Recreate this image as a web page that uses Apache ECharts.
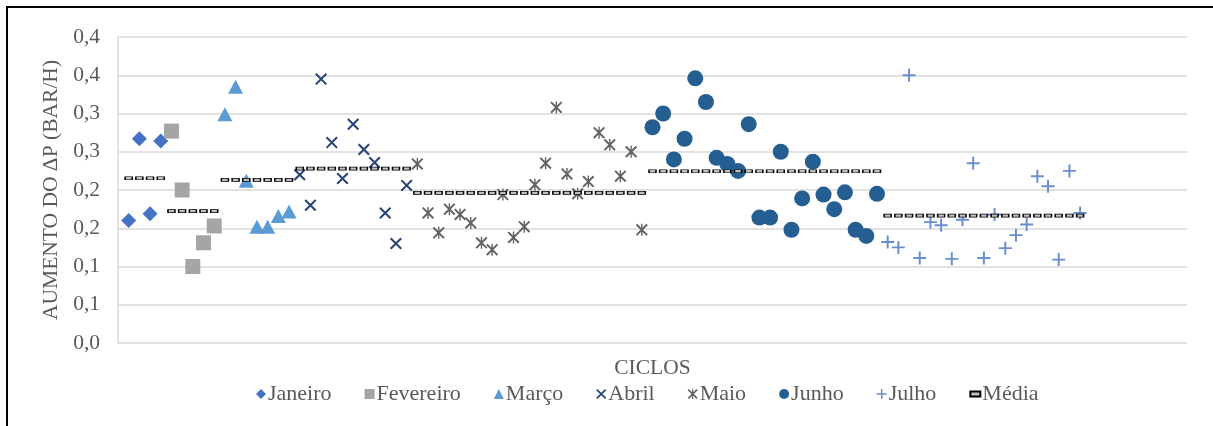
<!DOCTYPE html>
<html>
<head>
<meta charset="utf-8">
<script src="https://cdn.jsdelivr.net/npm/echarts@6/dist/echarts.min.js"></script>
<style>
  html, body { margin: 0; padding: 0; background: #fff; }
  #chart { width: 1213px; height: 426px; }
</style>
</head>
<body>
<div id="chart"></div>
<script>
// Aumento do ΔP (bar/h) por ciclo, agrupado por mês
const months = ['Janeiro', 'Fevereiro', 'Março', 'Abril', 'Maio', 'Junho', 'Julho'];

const janeiro   = [0.160, 0.267, 0.169, 0.264];
const fevereiro = [0.277, 0.200, 0.100, 0.131, 0.153];
const marco     = [0.299, 0.335, 0.212, 0.152, 0.152, 0.166, 0.172];
const abril     = [0.220, 0.180, 0.345, 0.262, 0.215, 0.286, 0.253, 0.236, 0.170, 0.130, 0.206];
const maio      = [0.234, 0.170, 0.144, 0.175, 0.168, 0.157, 0.131, 0.122, 0.194, 0.138, 0.152,
                   0.207, 0.235, 0.308, 0.221, 0.195, 0.211, 0.275, 0.259, 0.218, 0.250, 0.148];
const junho     = [0.282, 0.300, 0.240, 0.267, 0.346, 0.315, 0.242, 0.234, 0.225, 0.286, 0.164,
                   0.164, 0.250, 0.148, 0.189, 0.237, 0.194, 0.175, 0.197, 0.148, 0.140, 0.195];
const julho     = [0.132, 0.125, 0.350, 0.111, 0.158, 0.154, 0.110, 0.161, 0.235, 0.111, 0.168,
                   0.124, 0.141, 0.155, 0.218, 0.205, 0.109, 0.225, 0.170];

// Média mensal
const medias = [0.2154, 0.1723, 0.2132, 0.2280, 0.1962, 0.2245, 0.1666];

const yTicks = { min: 0, max: 0.4, interval: 0.05 };

const monthValues = [janeiro, fevereiro, marco, abril, maio, junho, julho];
const colors = ['#4472C4', '#A5A5A5', '#5B9BD5', '#264478', '#636363', '#255E91', '#698ED0'];

const X_PATH = 'path://M0,2.4 L2.4,0 L20,17.6 L17.6,20 Z M17.6,0 L20,2.4 L2.4,20 L0,17.6 Z';
const STAR_PATH = 'path://M0,2.3 L2.3,0 L20,17.7 L17.7,20 Z M17.7,0 L20,2.3 L2.3,20 L0,17.7 Z M8.85,0 L11.15,0 L11.15,20 L8.85,20 Z';
const PLUS_PATH = 'path://M8.5,0 H11.5 V8.5 H20 V11.5 H11.5 V20 H8.5 V11.5 H0 V8.5 H8.5 Z';
const DASH_PATH = 'path://M0,0 H8 V4 H0 Z';

const symbols = ['diamond', 'rect', 'triangle', X_PATH, STAR_PATH, 'circle', PLUS_PATH];
const sizes = [15, 15, [15, 14], 12, 12, 16, 13];

// ciclos numerados sequencialmente ao longo dos meses
let cycle = 0;
const monthPoints = monthValues.map(vals => vals.map(v => [++cycle, v]));
const meanPoints = [];
monthPoints.forEach((pts, m) => pts.forEach(p => meanPoints.push([p[0], medias[m]])));

const series = months.map((name, m) => ({
  name,
  type: 'scatter',
  data: monthPoints[m],
  symbol: symbols[m],
  symbolSize: sizes[m],
  itemStyle: { color: colors[m], opacity: 1 },
  emphasis: { disabled: true }
}));
series.push({
  name: 'Média',
  type: 'scatter',
  data: meanPoints,
  symbol: 'rect',
  symbolSize: [7, 3],
  itemStyle: { color: '#BFBFBF', borderColor: '#000', borderWidth: 1, opacity: 1 },
  emphasis: { disabled: true }
});

const font = 'Liberation Serif';
const fs = 21.5;
const legendIcons = symbols.concat([DASH_PATH]);

const chart = echarts.init(document.getElementById('chart'), null, { renderer: 'canvas' });
chart.setOption({
  animation: false,
  backgroundColor: '#fff',
  textStyle: { fontFamily: font },
  grid: { left: 118, right: 26, top: 37, bottom: 83, containLabel: false },
  xAxis: {
    type: 'value',
    min: 0,
    max: 100,
    name: 'CICLOS',
    nameLocation: 'middle',
    nameGap: 14,
    nameTextStyle: { color: '#595959', fontSize: fs, fontFamily: font },
    axisLine: { show: false },
    axisTick: { show: false },
    axisLabel: { show: false },
    splitLine: { show: false }
  },
  yAxis: {
    type: 'value',
    min: yTicks.min,
    max: yTicks.max,
    interval: yTicks.interval,
    name: 'AUMENTO DO ΔP (BAR/H)',
    nameLocation: 'middle',
    nameGap: 55,
    nameRotate: 90,
    nameTextStyle: { color: '#595959', fontSize: fs, fontFamily: font },
    axisLine: { show: true, lineStyle: { color: '#D9D9D9', width: 1.5 } },
    axisTick: { show: false },
    axisLabel: {
      color: '#595959',
      fontSize: fs,
      fontFamily: font,
      margin: 18,
      formatter: v => {
        const hundredths = Math.round(v * 100);
        const tenths = Math.floor((hundredths + 5) / 10);
        return (tenths / 10).toFixed(1).replace('.', ',');
      }
    },
    splitLine: { show: true, lineStyle: { color: '#D9D9D9', width: 1.5 } }
  },
  legend: {
    top: 383,
    left: 256,
    padding: 0,
    itemWidth: 10,
    itemHeight: 10,
    itemGap: 33,
    textStyle: { color: '#595959', fontSize: 22, fontFamily: font, padding: [0, 0, 0, -3] },
    data: months.concat(['Média']).map((name, i) => ({ name, icon: legendIcons[i] }))
  },
  graphic: [{
    type: 'rect',
    shape: { x: 7, y: 7, width: 1400, height: 600 },
    style: { fill: 'none', stroke: '#000', lineWidth: 2 },
    silent: true,
    z: 100
  }],
  series
});
</script>
</body>
</html>
